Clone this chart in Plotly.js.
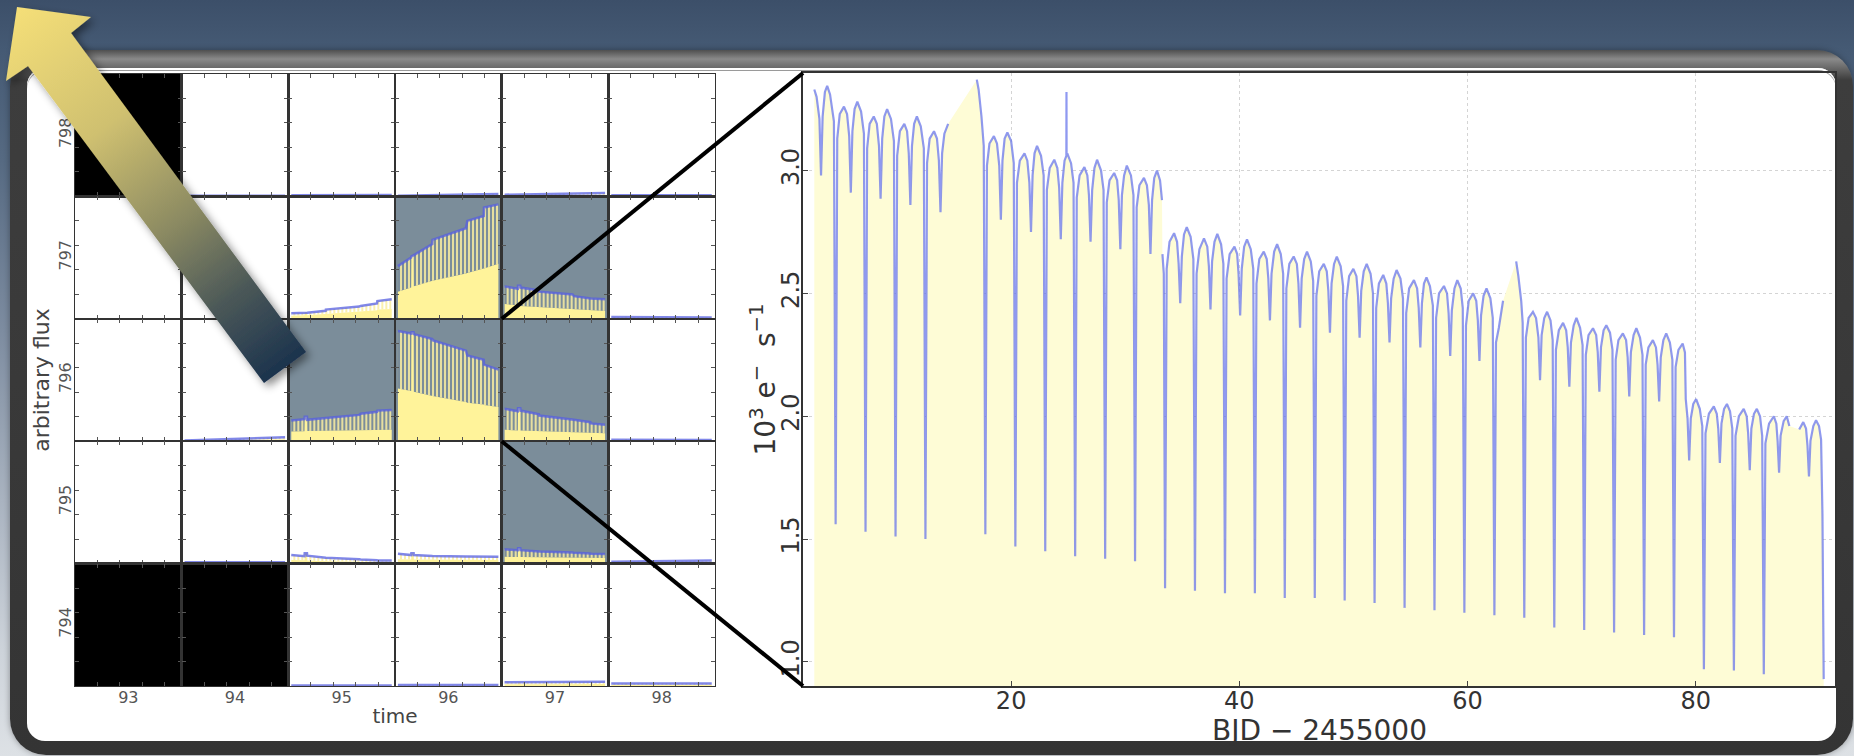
<!DOCTYPE html>
<html><head><meta charset="utf-8">
<script src="https://cdn.plot.ly/plotly-3.0.1.min.js"></script>
<style>
html,body{margin:0;padding:0;}
body{width:1854px;height:756px;overflow:hidden;position:relative;
 background:linear-gradient(to bottom,#3c4f69 0px,#455a74 50px,#566a82 160px,#7d8ca0 330px,#a9b3c0 500px,#cdd3da 650px,#dde1e5 756px);
 font-family:"DejaVu Sans";}
#panel{position:absolute;left:10px;top:50px;width:1843px;height:705px;border-radius:36px;
 background:linear-gradient(to bottom,#4f4f4f 0px,#8a8a8a 9px,#707070 16px,#3d3d3d 30px,#343434 100%);
 box-shadow:0 0 6px rgba(0,0,0,0.35);}
#inner{position:absolute;left:17px;top:18px;right:17px;bottom:14px;background:#fff;border-radius:18px;
 box-shadow:inset 0 2px 0 #fff, inset 0 3px 0 #9a9a9a;}
#chart{position:absolute;left:0;top:0;width:1854px;height:756px;}
#arrow{position:absolute;left:0;top:0;width:1854px;height:756px;pointer-events:none;}
</style></head>
<body>
<div id="panel"><div id="inner"></div></div>
<div id="chart"></div>
<svg id="arrow" width="1854" height="756" xmlns="http://www.w3.org/2000/svg">
 <defs>
  <linearGradient id="ag" gradientUnits="userSpaceOnUse" x1="17" y1="7" x2="285" y2="370">
   <stop offset="0" stop-color="#f5df78"/>
   <stop offset="0.33" stop-color="#cfc070"/>
   <stop offset="0.6" stop-color="#8a8962"/>
   <stop offset="0.8" stop-color="#4b5858"/>
   <stop offset="1" stop-color="#1a324d"/>
  </linearGradient>
  <filter id="sh" x="-20%" y="-20%" width="140%" height="140%">
   <feDropShadow dx="4" dy="4" stdDeviation="4" flood-color="#000" flood-opacity="0.45"/>
  </filter>
 </defs>
 <polygon points="17,7 91,17 71,33 306,352 264,383 28,66 6,81" fill="url(#ag)" filter="url(#sh)"/>
</svg>
<script>
// ---------------- pixel grid data ----------------
const gridCols=[93,94,95,96,97,98];
const gridRows=[794,795,796,797,798];
// 0 = outside aperture, 1 = aperture pixel, 2 = no data
const pixelMask=[
 [2,2,0,0,0,0],
 [0,0,0,0,1,0],
 [0,0,1,1,1,0],
 [0,0,0,1,1,0],
 [2,0,0,0,0,0]];
const pixTime=[2.6,14.4,14.6,16.6,16.8,33.2,33.4,63.2,64.4,79.0,79.3,92.1];
const p96_797Top=[0.43,0.50,0.51,0.52,0.52,0.61,0.645,0.74,0.80,0.84,0.91,0.935];
const p96_797Bot=[0.22,0.255,0.51,0.52,0.265,0.31,0.31,0.37,0.375,0.41,0.41,0.45];
const p97_797Top=[0.265,0.245,0.27,0.27,0.255,0.232,0.222,0.198,0.185,0.17,0.165,0.16];
const p97_797Bot=[0.12,0.11,0.27,0.27,0.105,0.095,0.093,0.08,0.078,0.07,0.068,0.063];
const p95_797Top=[0.045,0.05,0.055,0.055,0.05,0.065,0.075,0.10,0.105,0.125,0.145,0.16];
const p95_797Bot=[0.025,0.03,0.055,0.055,0.03,0.04,0.045,0.06,0.062,0.07,0.075,0.08];
const p98_797Top=[0.015,0.014,0.016,0.016,0.014,0.013,0.013,0.012,0.012,0.011,0.011,0.01];
const p98_797Bot=[0.006,0.006,0.016,0.016,0.006,0.005,0.005,0.005,0.005,0.004,0.004,0.004];
const p94_796Top=[0.006,0.009,0.012,0.012,0.01,0.014,0.016,0.022,0.024,0.027,0.029,0.032];
const p94_796Bot=[0.003,0.004,0.012,0.012,0.004,0.006,0.007,0.01,0.011,0.012,0.013,0.015];
const p95_796Top=[0.17,0.18,0.2,0.2,0.175,0.185,0.19,0.215,0.225,0.24,0.25,0.255];
const p95_796Bot=[0.08,0.082,0.2,0.2,0.083,0.085,0.086,0.089,0.09,0.092,0.093,0.094];
const p96_796Top=[0.90,0.88,0.89,0.89,0.875,0.835,0.825,0.74,0.70,0.665,0.625,0.585];
const p96_796Bot=[0.43,0.41,0.89,0.89,0.405,0.37,0.37,0.32,0.315,0.30,0.295,0.28];
const p97_796Top=[0.265,0.245,0.27,0.27,0.25,0.22,0.21,0.18,0.175,0.155,0.145,0.135];
const p97_796Bot=[0.093,0.088,0.27,0.27,0.087,0.082,0.08,0.073,0.072,0.068,0.066,0.065];
const p98_796Top=[0.012,0.012,0.013,0.013,0.012,0.011,0.011,0.01,0.01,0.01,0.009,0.009];
const p98_796Bot=[0.005,0.005,0.013,0.013,0.005,0.005,0.005,0.004,0.004,0.004,0.004,0.004];
const p94_795Top=[0.012,0.012,0.013,0.013,0.012,0.012,0.012,0.012,0.012,0.012,0.012,0.012];
const p94_795Bot=[0.005,0.005,0.013,0.013,0.005,0.005,0.005,0.005,0.005,0.005,0.005,0.005];
const p95_795Top=[0.07,0.06,0.085,0.085,0.065,0.052,0.048,0.035,0.033,0.028,0.026,0.025];
const p95_795Bot=[0.03,0.027,0.085,0.085,0.026,0.02,0.019,0.015,0.014,0.012,0.011,0.01];
const p96_795Top=[0.08,0.07,0.085,0.085,0.07,0.063,0.062,0.058,0.058,0.057,0.057,0.056];
const p96_795Bot=[0.035,0.034,0.085,0.085,0.034,0.033,0.033,0.031,0.031,0.03,0.03,0.03];
const p97_795Top=[0.117,0.11,0.125,0.125,0.11,0.10,0.098,0.09,0.088,0.083,0.081,0.079];
const p97_795Bot=[0.055,0.054,0.125,0.125,0.053,0.051,0.05,0.048,0.047,0.046,0.045,0.045];
const p98_795Top=[0.015,0.016,0.017,0.017,0.016,0.018,0.019,0.021,0.022,0.023,0.024,0.025];
const p98_795Bot=[0.007,0.007,0.017,0.017,0.007,0.008,0.009,0.01,0.01,0.011,0.011,0.012];
const p95_794Top=[0.005,0.005,0.006,0.006,0.005,0.005,0.005,0.005,0.005,0.005,0.005,0.005];
const p95_794Bot=[0.002,0.002,0.006,0.006,0.002,0.002,0.002,0.002,0.002,0.002,0.002,0.002];
const p96_794Top=[0.008,0.008,0.009,0.009,0.008,0.008,0.008,0.008,0.008,0.008,0.008,0.008];
const p96_794Bot=[0.003,0.003,0.009,0.009,0.003,0.003,0.003,0.003,0.003,0.003,0.003,0.003];
const p97_794Top=[0.03,0.031,0.033,0.033,0.031,0.032,0.032,0.033,0.033,0.034,0.034,0.034];
const p97_794Bot=[0.015,0.015,0.033,0.033,0.015,0.015,0.015,0.016,0.016,0.016,0.016,0.016];
const p98_794Top=[0.02,0.02,0.021,0.021,0.02,0.02,0.02,0.02,0.02,0.02,0.02,0.02];
const p98_794Bot=[0.008,0.008,0.021,0.021,0.008,0.008,0.008,0.008,0.008,0.008,0.008,0.008];
const p94_798Top=[0.005,0.005,0.006,0.006,0.005,0.005,0.005,0.005,0.005,0.005,0.005,0.005];
const p94_798Bot=[0.002,0.002,0.006,0.006,0.002,0.002,0.002,0.002,0.002,0.002,0.002,0.002];
const p95_798Top=[0.01,0.01,0.011,0.011,0.01,0.01,0.01,0.011,0.011,0.011,0.011,0.011];
const p95_798Bot=[0.004,0.004,0.011,0.011,0.004,0.004,0.004,0.004,0.004,0.004,0.004,0.004];
const p96_798Top=[0.005,0.007,0.008,0.008,0.007,0.009,0.01,0.014,0.015,0.017,0.019,0.02];
const p96_798Bot=[0.002,0.003,0.008,0.008,0.003,0.004,0.004,0.006,0.006,0.007,0.008,0.008];
const p97_798Top=[0.014,0.015,0.016,0.016,0.015,0.017,0.018,0.022,0.023,0.025,0.026,0.027];
const p97_798Bot=[0.006,0.006,0.016,0.016,0.006,0.007,0.008,0.009,0.01,0.011,0.011,0.012];
const p98_798Top=[0.01,0.01,0.011,0.011,0.01,0.01,0.01,0.01,0.01,0.01,0.01,0.01];
const p98_798Bot=[0.004,0.004,0.011,0.011,0.004,0.004,0.004,0.004,0.004,0.004,0.004,0.004];
const pixelCurves=[
 [96,797,p96_797Top,p96_797Bot],[97,797,p97_797Top,p97_797Bot],[95,797,p95_797Top,p95_797Bot],[98,797,p98_797Top,p98_797Bot],
 [94,796,p94_796Top,p94_796Bot],[95,796,p95_796Top,p95_796Bot],[96,796,p96_796Top,p96_796Bot],[97,796,p97_796Top,p97_796Bot],[98,796,p98_796Top,p98_796Bot],
 [94,795,p94_795Top,p94_795Bot],[95,795,p95_795Top,p95_795Bot],[96,795,p96_795Top,p96_795Bot],[97,795,p97_795Top,p97_795Bot],[98,795,p98_795Top,p98_795Bot],
 [95,794,p95_794Top,p95_794Bot],[96,794,p96_794Top,p96_794Bot],[97,794,p97_794Top,p97_794Bot],[98,794,p98_794Top,p98_794Bot],
 [94,798,p94_798Top,p94_798Bot],[95,798,p95_798Top,p95_798Bot],[96,798,p96_798Top,p96_798Bot],[97,798,p97_798Top,p97_798Bot],[98,798,p98_798Top,p98_798Bot]];

// ---------------- light curve (BJD-2455000, 10^3 e-/s) ----------------
const lcTime=[
 [2.75,2.95,3.20,3.34,3.48,3.68,3.88,4.13,4.47],
 [4.62,4.76,4.98,5.35,5.62,5.81,5.95,6.09,6.28,6.52,6.85,7.10],
 [7.24,7.38,7.60,7.96,8.23,8.42,8.56,8.70,8.89,9.13,9.47,9.73],
 [9.87,10.01,10.25,10.64,10.88,11.03,11.17,11.31,11.50,11.74,12.08,12.35],
 [12.49,12.63,12.86,13.24,13.50,13.67,13.81,13.95,14.15,14.48,15.7],
 [16.99,17.15,17.40,17.60],
 [17.74,17.88,18.10,18.49,18.76,18.96,19.10,19.24,19.43,19.67,20.00,20.23],
 [20.37,20.51,20.76,21.17,21.42,21.60,21.74,21.88,22.05,22.27,22.62,22.85],
 [22.99,23.13,23.38,23.78,24.05,24.21,24.35,24.49,24.68,24.84,24.85,24.86,24.92,25.25,25.47],
 [25.61,25.75,26.00,26.42,26.68,26.82,26.96,27.10,27.30,27.53,27.88,28.10],
 [28.24,28.38,28.62,29.03,29.29,29.43,29.57,29.71,29.90,30.14,30.50,30.72],
 [30.86,31.00,31.24,31.64,31.90,32.07,32.21,32.35,32.54,32.78,33.05,33.22,33.24],
 [33.26,33.38],
 [33.49,33.63,33.88,34.28,34.54,34.68,34.82,34.96,35.15,35.39,35.73,35.97],
 [36.11,36.25,36.50,36.90,37.19,37.33,37.47,37.61,37.82,38.07,38.40,38.60],
 [38.74,38.88,39.15,39.57,39.81,39.93,40.07,40.21,40.42,40.67,41.00,41.22],
 [41.36,41.50,41.75,42.14,42.40,42.54,42.68,42.82,43.05,43.31,43.63,43.84],
 [43.98,44.12,44.38,44.76,45.04,45.18,45.32,45.46,45.68,45.93,46.26,46.47],
 [46.61,46.75,47.00,47.40,47.66,47.80,47.94,48.08,48.30,48.54,48.88,49.09],
 [49.23,49.37,49.62,49.99,50.26,50.40,50.54,50.68,50.90,51.16,51.50,51.71],
 [51.85,51.99,52.23,52.61,52.88,53.02,53.16,53.30,53.52,53.78,54.12,54.34],
 [54.48,54.62,54.88,55.30,55.58,55.72,55.86,56.00,56.18,56.40,56.70,56.96],
 [57.10,57.24,57.50,57.93,58.20,58.34,58.48,58.62,58.85,59.10,59.40,59.58],
 [59.72,59.86,60.10,60.49,60.76,60.90,61.04,61.18,61.40,61.66,62.00,62.21],
 [62.35,62.49,62.74,62.95,63.11,63.70],
 [64.26,64.45,64.70,64.83],
 [64.97,65.11,65.35,65.73,66.00,66.21,66.35,66.49,66.72,66.97,67.27,67.46],
 [67.60,67.74,68.00,68.37,68.64,68.78,68.92,69.06,69.30,69.54,69.86,70.08],
 [70.22,70.36,70.60,70.99,71.27,71.41,71.55,71.69,71.92,72.16,72.48,72.70],
 [72.84,72.98,73.22,73.61,73.89,74.03,74.17,74.31,74.55,74.79,75.11,75.33],
 [75.47,75.61,75.85,76.24,76.51,76.65,76.79,76.93,77.16,77.41,77.73,77.95],
 [78.09,78.23,78.48,78.85,79.05,79.12,79.28,79.42,79.56,79.78,80.03,80.35,80.57],
 [80.71,80.85,81.15,81.58,81.84,81.97,82.11,82.25,82.48,82.73,83.00,83.20],
 [83.34,83.48,83.78,84.20,84.46,84.59,84.73,84.87,85.10,85.35,85.63,85.82],
 [85.96,86.10,86.42,86.84,87.06,87.17,87.30,87.43,87.70,87.97,88.20,88.60],
 [89.06,89.42,89.66,89.79,89.92,90.05,90.30,90.54,90.80,90.98,91.10,91.21]].flat();
const lcFlux=[
 [3.33,3.30,3.21,2.98,3.22,3.32,3.345,3.31,3.20],
 [1.56,3.13,3.23,3.26,3.23,3.14,2.91,3.16,3.25,3.28,3.24,3.15],
 [1.53,3.09,3.19,3.22,3.19,3.10,2.885,3.13,3.22,3.25,3.21,3.12],
 [1.51,3.06,3.16,3.19,3.16,3.07,2.86,3.10,3.19,3.22,3.18,3.09],
 [1.50,3.03,3.13,3.16,3.13,3.04,2.83,3.07,3.15,3.19,null],
 [3.37,3.33,3.22,3.10],
 [1.52,3.02,3.11,3.14,3.11,3.02,2.80,3.04,3.13,3.155,3.12,3.03],
 [1.47,2.95,3.04,3.07,3.04,2.95,2.75,2.98,3.07,3.10,3.06,2.98],
 [1.45,2.92,3.01,3.044,3.01,2.93,2.72,2.95,3.04,3.06,3.32,3.06,3.07,3.03,2.95],
 [1.43,2.89,2.98,3.014,2.98,2.90,2.71,2.92,3.01,3.044,3.00,2.92],
 [1.42,2.87,2.96,2.99,2.96,2.88,2.68,2.90,2.98,3.02,2.98,2.90],
 [1.41,2.85,2.94,2.97,2.94,2.86,2.66,2.88,2.97,3.00,2.96,2.88,null],
 [2.66,2.58],
 [1.30,2.60,2.71,2.745,2.71,2.62,2.46,2.65,2.74,2.77,2.73,2.64],
 [1.29,2.58,2.68,2.724,2.69,2.61,2.435,2.63,2.71,2.742,2.70,2.62],
 [1.28,2.56,2.66,2.69,2.66,2.58,2.41,2.60,2.69,2.72,2.68,2.60],
 [1.28,2.54,2.64,2.67,2.64,2.56,2.39,2.58,2.67,2.70,2.66,2.58],
 [1.26,2.52,2.62,2.65,2.62,2.54,2.36,2.56,2.64,2.67,2.63,2.55],
 [1.26,2.49,2.59,2.62,2.59,2.51,2.34,2.54,2.62,2.65,2.61,2.53],
 [1.25,2.47,2.57,2.60,2.57,2.49,2.32,2.51,2.59,2.62,2.58,2.50],
 [1.24,2.44,2.54,2.575,2.54,2.46,2.30,2.48,2.56,2.595,2.56,2.48],
 [1.22,2.42,2.52,2.554,2.52,2.44,2.28,2.46,2.54,2.565,2.53,2.45],
 [1.21,2.40,2.50,2.53,2.50,2.42,2.245,2.43,2.52,2.554,2.52,2.44],
 [1.20,2.37,2.47,2.50,2.47,2.39,2.225,2.41,2.49,2.52,2.48,2.40],
 [1.19,2.30,2.36,2.43,2.47,null],
 [2.63,2.57,2.47,2.38],
 [1.18,2.32,2.40,2.425,2.40,2.32,2.147,2.33,2.40,2.425,2.39,2.31],
 [1.14,2.27,2.35,2.38,2.35,2.28,2.12,2.30,2.37,2.40,2.36,2.29],
 [1.13,2.25,2.33,2.358,2.33,2.26,2.10,2.28,2.35,2.37,2.34,2.27],
 [1.12,2.23,2.31,2.337,2.31,2.24,2.08,2.26,2.33,2.358,2.32,2.25],
 [1.11,2.21,2.28,2.31,2.28,2.21,2.06,2.24,2.31,2.337,2.30,2.23],
 [1.10,2.20,2.27,2.296,2.26,2.07,1.99,1.82,1.99,2.05,2.07,2.03,1.96],
 [0.97,1.93,2.01,2.04,2.01,1.95,1.81,1.97,2.03,2.05,2.02,1.95],
 [0.965,1.92,2.00,2.03,2.00,1.93,1.78,1.95,2.01,2.03,2.00,1.92],
 [0.95,1.89,1.97,2.00,1.97,1.90,1.77,1.92,1.98,2.00,1.96,null],
 [1.946,1.976,1.95,1.88,1.755,1.90,1.96,1.984,1.96,1.905,1.60,0.93]].flat();
const mainXTicks=[20,40,60,80];
const mainYTicks=[1.0,1.5,2.0,2.5,3.0];

// ---------------- geometry ----------------
const W=1854,H=756;
const fx=p=>p/W, fy=p=>1-p/H;
const G={l:75,r:715,t:74,b:686};
const M={l:803,r:1835,t:73,b:686};
const cw=(G.r-G.l)/gridCols.length, ch=(G.b-G.t)/gridRows.length;

const layout={width:W,height:H,margin:{l:0,r:0,t:0,b:0},
 paper_bgcolor:'rgba(0,0,0,0)',plot_bgcolor:'rgba(0,0,0,0)',showlegend:false,
 font:{family:'DejaVu Sans',color:'#333'},
 xaxis:{domain:[fx(G.l),fx(G.r)],anchor:'y',range:[92.5,98.5],tickvals:gridCols,ticks:'',
  showline:false,showgrid:false,zeroline:false,tickfont:{size:16,color:'#555'},
  title:{text:'time',font:{size:20,color:'#444'},standoff:2}},
 yaxis:{domain:[fy(G.b),fy(G.t)],anchor:'x',range:[793.5,798.5],tickvals:gridRows,ticks:'',tickangle:-90,
  showline:false,showgrid:false,zeroline:false,tickfont:{size:16,color:'#555'},
  title:{text:'arbitrary flux',font:{size:22,color:'#444'},standoff:0}},
 xaxis32:{domain:[fx(M.l),fx(M.r)],anchor:'y32',range:[1.76,92.2],tickvals:mainXTicks,ticks:'inside',ticklen:5,
  tickcolor:'#444',showline:true,mirror:true,linecolor:'#333',linewidth:2,showgrid:true,gridcolor:'#d4d4d4',
  griddash:'dot',zeroline:false,tickfont:{size:24,color:'#333'},ticklabelstandoff:-8},
 yaxis32:{domain:[fy(M.b),fy(M.t)],anchor:'x32',range:[0.902,3.397],tickvals:mainYTicks,tickformat:'.1f',
  tickangle:-90,ticks:'inside',ticklen:5,tickcolor:'#444',showline:true,mirror:true,linecolor:'#333',linewidth:2,
  showgrid:true,gridcolor:'#d4d4d4',griddash:'dot',zeroline:false,tickfont:{size:24,color:'#333'},ticklabelstandoff:-8},
 annotations:[
  {xref:'paper',yref:'paper',x:fx((M.l+M.r)/2),y:fy(730),text:'BJD \u2212 2455000',showarrow:false,
   xanchor:'center',yanchor:'middle',font:{size:28,color:'#333'}},
  {xref:'paper',yref:'paper',x:fx(764),y:fy((M.t+M.b)/2),text:'10<sup>3</sup> e<sup>\u2212</sup>&nbsp;&nbsp;s<sup>\u22121</sup>',
   showarrow:false,textangle:-90,xanchor:'center',yanchor:'middle',font:{size:28,color:'#333'}}
 ],
 shapes:[
  {type:'line',xref:'paper',yref:'paper',x0:fx(G.l+4*cw),y0:fy(G.t+2*ch),x1:fx(M.l),y1:fy(M.t),line:{color:'#000',width:4}},
  {type:'line',xref:'paper',yref:'paper',x0:fx(G.l+4*cw),y0:fy(G.t+3*ch),x1:fx(M.l),y1:fy(M.b),line:{color:'#000',width:4}}
 ]};

const traces=[];
traces.push({type:'heatmap',x:gridCols,y:gridRows,z:pixelMask,zmin:0,zmax:2,showscale:false,hoverinfo:'skip',
 colorscale:[[0,'#ffffff'],[0.33,'#ffffff'],[0.34,'#7b8d9a'],[0.66,'#7b8d9a'],[0.67,'#000000'],[1,'#000000']],
 xaxis:'x',yaxis:'y'});

// cell axes (one small frame per pixel)
for(let r=0;r<gridRows.length;r++){
 for(let c=0;c<gridCols.length;c++){
  const n=2+r*gridCols.length+c;
  layout['xaxis'+n]={domain:[fx(G.l+c*cw),fx(G.l+(c+1)*cw)],anchor:'y'+n,range:[0,95],dtick:20,tick0:0,
   ticks:'inside',ticklen:4,tickwidth:1,tickcolor:'#555',showticklabels:false,showgrid:false,zeroline:false,
   showline:true,mirror:'ticks',linecolor:'#333',linewidth:1.2};
  layout['yaxis'+n]={domain:[fy(G.t+(r+1)*ch),fy(G.t+r*ch)],anchor:'x'+n,range:[0,1],dtick:0.2,tick0:0,
   ticks:'inside',ticklen:4,tickwidth:1,tickcolor:'#555',showticklabels:false,showgrid:false,zeroline:false,
   showline:true,mirror:'ticks',linecolor:'#333',linewidth:1.2};
  traces.push({type:'scatter',mode:'lines',x:[null],y:[null],xaxis:'x'+n,yaxis:'y'+n,hoverinfo:'skip'});
 }
}

pixelCurves.forEach(([col,row,top,bot])=>{
 const r=gridRows.length-1-gridRows.indexOf(row);
 const c=gridCols.indexOf(col);
 const n=2+r*gridCols.length+c;
 traces.push({type:'scatter',mode:'lines',x:pixTime,y:bot,xaxis:'x'+n,yaxis:'y'+n,fill:'tozeroy',
  fillcolor:'#fff39a',line:{width:0,color:'rgba(0,0,0,0)'},hoverinfo:'skip'});
 traces.push({type:'scatter',mode:'lines',x:pixTime,y:top,xaxis:'x'+n,yaxis:'y'+n,fill:'tonexty',
  fillcolor:'rgba(0,0,0,0)',
  fillpattern:{shape:'|',size:4,solidity:0.45,fgcolor:'rgba(250,238,160,0.95)',bgcolor:'rgba(0,0,0,0)',fillmode:'replace'},
  line:{width:2.5,color:'rgba(85,95,225,0.75)'},hoverinfo:'skip'});
});

traces.push({type:'scatter',mode:'lines',x:lcTime,y:lcFlux,connectgaps:true,fill:'tozeroy',fillcolor:'#fefcd6',
 line:{width:0,color:'rgba(0,0,0,0)'},xaxis:'x32',yaxis:'y32',hoverinfo:'skip'});
traces.push({type:'scatter',mode:'lines',x:lcTime,y:lcFlux,connectgaps:false,
 line:{width:2.2,color:'rgba(95,110,235,0.7)'},xaxis:'x32',yaxis:'y32',hoverinfo:'skip'});

Plotly.newPlot('chart',traces,layout,{staticPlot:true,displayModeBar:false});
</script>
</body></html>
